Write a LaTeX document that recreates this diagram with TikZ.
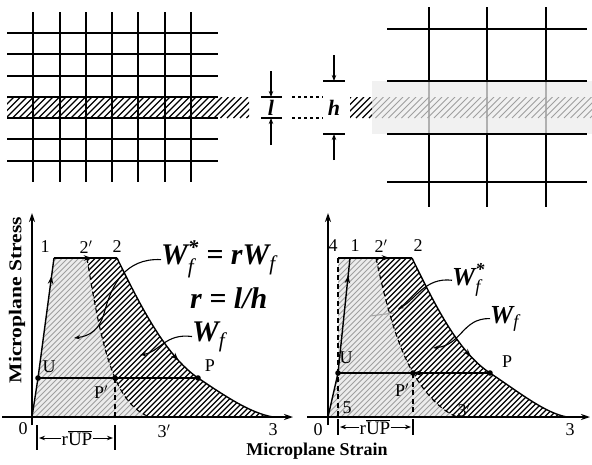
\documentclass[tikz,border=0pt]{standalone}
\usepackage{fontspec}
\setmainfont{Liberation Serif}[
  BoldFont={Liberation Serif Bold},
  ItalicFont={Liberation Serif Italic},
  BoldItalicFont={Liberation Serif Bold Italic}]
\usepackage{amsmath}
\usetikzlibrary{arrows.meta,decorations.markings}

\tikzset{
  gridline/.style={line width=1.8pt},
  dimline/.style={line width=1.3pt},
  tip/.style={-{Stealth[length=6pt,width=4.5pt]}},
  axis/.style={line width=1.5pt,-{Stealth[length=9pt,width=6pt]}},
  curve/.style={line width=1.4pt},
  unload/.style={line width=1.1pt,dash pattern=on 5pt off 3.5pt},
  leader/.style={line width=1.1pt,-{Stealth[length=6pt,width=4pt]}},
  hatchdark/.style={line width=1.2pt},
  hatchgray/.style={line width=0.9pt,gray!75},
  lbl/.style={font=\fontsize{18}{20}\selectfont,inner sep=0pt},
  wlbl/.style={font=\fontsize{30}{32}\selectfont\bfseries\itshape,inner sep=0pt,anchor=base west},
  wlblsmall/.style={wlbl,font=\fontsize{26}{28}\selectfont\bfseries\itshape},
  dimlbl/.style={font=\fontsize{22}{24}\selectfont\bfseries\itshape,inner sep=0pt},
  axlbl/.style={font=\fontsize{18}{20}\selectfont\bfseries,inner sep=0pt},
  midarrow/.style={postaction={decorate},decoration={markings,
      mark=at position #1 with {\arrow{Stealth[length=8pt,width=5.5pt]}}}},
}
\newcommand{\wsub}{$_{\text{\mdseries f}}$}
\newcommand{\wstar}{$^{\text{*}}_{\text{\mdseries f}}$}

\begin{document}
\begin{tikzpicture}[x=1pt,y=-1pt]
\useasboundingbox (0,0) rectangle (592,464);

% fine mesh with localized band
\begin{scope}
  \clip (7,97) rectangle (249,118);
  \foreach \i in {-20,-13.5,...,250}
    \draw[hatchdark] (\i,118) -- ++(21,-21);
\end{scope}
\foreach \y in {33,54,76,97,118,139,161}
  \draw[gridline] (7,\y) -- (218,\y);
\foreach \x in {33,60,86,112,138,165,191}
  \draw[gridline] (\x,12) -- (\x,182);

% band width l
\coordinate (la) at (271,97);
\coordinate (lb) at (271,118);
\coordinate (la0) at (271,71);
\coordinate (lb0) at (271,145);
\draw[dimline] (261,97) -- (282,97);
\draw[dimline] (261,118) -- (282,118);
\draw[dimline,tip] (la0) -- (la);
\draw[dimline,tip] (lb0) -- (lb);
\node[dimlbl] (lw) at (271,107.5) {l};
\draw[dimline,dashed] (292,97) -- (323,97);
\draw[dimline,dashed] (292,118) -- (323,118);

% element size h
\coordinate (ha) at (334,81);
\coordinate (hb) at (334,134);
\coordinate (ha0) at (334,55);
\coordinate (hb0) at (334,160);
\draw[dimline] (323,81) -- (345,81);
\draw[dimline] (323,134) -- (345,134);
\draw[dimline,tip] (ha0) -- (ha);
\draw[dimline,tip] (hb0) -- (hb);
\node[dimlbl] (hw) at (334,107.5) {h};

% coarse mesh
\foreach \x in {429,487,546}
  \draw[gridline] (\x,7) -- (\x,207);
\fill[gray!15,fill opacity=0.75] (372,81) rectangle (592,134);
\begin{scope}
  \clip (350,97) rectangle (372,118);
  \foreach \i in {330,336.5,...,372}
    \draw[hatchdark] (\i,118) -- ++(21,-21);
\end{scope}
\begin{scope}
  \clip (372,97) rectangle (592,118);
  \foreach \i in {349.5,356,...,592}
    \draw[hatchgray] (\i,118) -- ++(21,-21);
\end{scope}
\foreach \y in {29,81,134,182}
  \draw[gridline] (387,\y) -- (587,\y);

% ---------------- left diagram
\coordinate (O1) at (32,417);
\coordinate (U1) at (38,378);
\coordinate (A1) at (54,258);
\coordinate (Bq1) at (87,258);
\coordinate (B1) at (117,258);
\coordinate (Pq1) at (115,378);
\coordinate (P1) at (198,378);
\coordinate (Cq1) at (150,417);
\coordinate (C1) at (273,417);

\begin{scope}
  \clip (O1) -- (U1) -- (A1) -- (Bq1) .. controls (96,315) and (104,352) .. (Pq1)
    .. controls (123,397) and (135,412) .. (Cq1) -- cycle;
  \fill[gray!15] (20,250) rectangle (160,420);
  \foreach \i in {-160,-154.5,...,160}
    \draw[hatchgray] (\i,420) -- ++(170,-170);
\end{scope}
\begin{scope}
  \clip (Bq1) -- (B1) .. controls (140,305) and (165,355) .. (P1)
    .. controls (225,396) and (250,413) .. (C1) -- (Cq1)
    .. controls (135,412) and (123,397) .. (Pq1)
    .. controls (104,352) and (96,315) .. (Bq1);
  \foreach \i in {-94,-88.5,...,280}
    \draw[hatchdark] (\i,420) -- ++(170,-170);
\end{scope}

\draw[axis] (2,417) -- (293,417);
\draw[axis] (32,425) -- (32,213);
\draw[curve] (O1) -- (U1);
\draw[curve,midarrow=0.85] (U1) -- (A1);
\draw[curve,midarrow=0.6] (A1) -- (B1);
\draw[curve,midarrow=0.82] (B1) .. controls (140,305) and (165,355) .. (P1);
\draw[curve] (P1) .. controls (225,396) and (250,413) .. (C1);
\draw[unload] (Bq1) .. controls (96,315) and (104,352) .. (Pq1)
  .. controls (123,397) and (135,412) .. (Cq1);
\draw[curve] (U1) -- (P1);
\draw[unload] (Pq1) -- (115,417);
\draw[dimline] (37,425) -- (37,450);
\draw[dimline] (115,425) -- (115,450);
\node[lbl,font=\fontsize{19}{21}\selectfont] (rupL) at (77,438) {r$\overline{\mbox{UP}}$};
\draw[line width=0.9pt,tip] (rupL.west) -- (39,438);
\draw[line width=0.9pt,tip] (rupL.east) -- (113,438);
\foreach \p in {U1,Pq1,P1}
  \fill (\p) circle (2.8);

\node[lbl] (n1L) at (45,247) {1};
\node[lbl] (n2qL) at (86,247) {2$'$};
\node[lbl] (n2L) at (117,247) {2};
\node[lbl] (nUL) at (49,367) {U};
\node[lbl] (nPL) at (210,366) {P};
\node[lbl] (nPqL) at (101,392) {P$'$};
\node[lbl] (n0L) at (23,429) {0};
\node[lbl] (n3qL) at (164,431) {3$'$};
\node[lbl] (n3L) at (273,430) {3};

\node[wlbl] (wsL) at (161,264) {W\wstar{} = rW\wsub};
\node[wlbl] (rr) at (190,308) {r = l/h};
\node[wlbl] (wL) at (192,341) {W\wsub};
\draw[leader] (wsL.west) .. controls (125,258) and (112,285) .. (105,310)
  .. controls (100,330) and (90,336) .. (74,338);
\draw[leader] (wL.west) .. controls (165,333) and (160,352) .. (140,355);

% ---------------- right diagram
\coordinate (O2) at (328,417);
\coordinate (U2) at (338,373);
\coordinate (A2) at (350,258);
\coordinate (D2) at (338,258);
\coordinate (E2) at (338,417);
\coordinate (Bq2) at (376,258);
\coordinate (B2) at (412,258);
\coordinate (Pq2) at (413,373);
\coordinate (P2) at (490,373);
\coordinate (Cq2) at (457,417);
\coordinate (C2) at (567,417);

\begin{scope}
  \clip (O2) -- (U2) -- (D2) -- (Bq2) .. controls (388,315) and (400,350) .. (Pq2)
    .. controls (425,393) and (440,410) .. (Cq2) -- cycle;
  \fill[gray!15] (320,250) rectangle (470,420);
  \foreach \i in {140,145.5,...,470}
    \draw[hatchgray] (\i,420) -- ++(170,-170);
\end{scope}
\begin{scope}
  \clip (Bq2) -- (B2) .. controls (435,305) and (458,352) .. (P2)
    .. controls (520,393) and (545,413) .. (C2) -- (Cq2)
    .. controls (440,410) and (425,393) .. (Pq2)
    .. controls (400,350) and (388,315) .. (Bq2);
  \foreach \i in {206,211.5,...,570}
    \draw[hatchdark] (\i,420) -- ++(170,-170);
\end{scope}

\draw[axis] (307,417) -- (590,417);
\draw[axis] (328,425) -- (328,213);
\draw[curve] (O2) -- (U2);
\draw[curve,midarrow=0.85] (U2) -- (A2);
\draw[curve,midarrow=0.7] (D2) -- (B2);
\draw[unload] (D2) -- (E2);
\draw[curve,midarrow=0.82] (B2) .. controls (435,305) and (458,352) .. (P2);
\draw[curve] (P2) .. controls (520,393) and (545,413) .. (C2);
\draw[unload] (Bq2) .. controls (388,315) and (400,350) .. (Pq2)
  .. controls (425,393) and (440,410) .. (Cq2);
\draw[curve] (U2) -- (P2);
\draw[curve,-{Stealth[length=9pt,width=6pt]}] (440,373) -- (Pq2);
\draw[unload] (Pq2) -- (413,417);
\draw[dimline] (338,419) -- (338,435);
\draw[dimline] (413,419) -- (413,435);
\node[lbl,font=\fontsize{19}{21}\selectfont] (rupR) at (375,427) {r$\overline{\mbox{UP}}$};
\draw[line width=0.9pt,tip] (rupR.west) -- (340,427);
\draw[line width=0.9pt,tip] (rupR.east) -- (411,427);
\foreach \p in {U2,Pq2,P2}
  \fill (\p) circle (2.8);

\node[lbl] (n4R) at (333,246) {4};
\node[lbl] (n1R) at (355,246) {1};
\node[lbl] (n2qR) at (381,246) {2$'$};
\node[lbl] (n2R) at (418,246) {2};
\node[lbl] (nUR) at (346,358) {U};
\node[lbl] (nPR) at (507,362) {P};
\node[lbl] (nPqR) at (402,390) {P$'$};
\node[lbl] (n5R) at (347,408) {5};
\node[lbl] (n3qR) at (464,410) {3$'$};
\node[lbl] (n0R) at (318,430) {0};
\node[lbl] (n3R) at (570,430) {3};

\node[wlblsmall] (wsR) at (452,285) {W\wstar};
\node[wlblsmall] (wR) at (490,323) {W\wsub};
\draw[leader] (wsR.west) .. controls (425,277) and (415,300) .. (398,309);
\draw[line width=1.1pt,gray!70] (394,313) -- (370,316);
\draw[leader] (wR.west) .. controls (462,318) and (462,345) .. (433,348);

% axis titles
\node[axlbl,anchor=base] (xlab) at (317,455) {Microplane Strain};
\node[axlbl,rotate=90] (ylab) at (17,300) {\scalebox{1.2}[1]{Microplane Stress}};
\end{tikzpicture}
\end{document}
